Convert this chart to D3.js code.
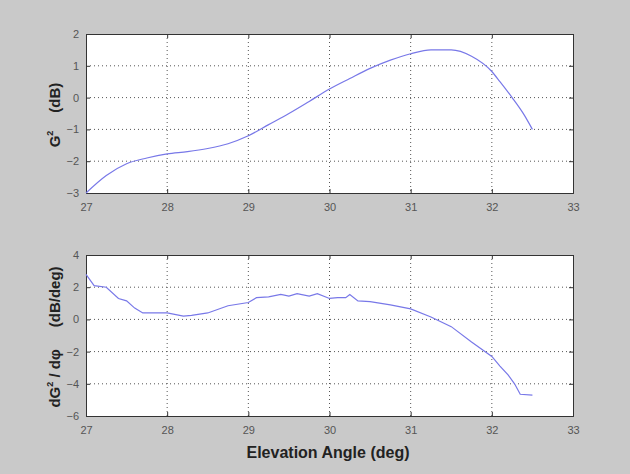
<!DOCTYPE html>
<html>
<head>
<meta charset="utf-8">
<script src="https://cdn.jsdelivr.net/npm/d3@7"></script>
<style>
  body { margin: 0; background: #c9c9c9; }
  svg { display: block; }
  .tick text { font-family: "Liberation Sans", Arial, sans-serif; font-size: 11px; fill: #555; }
  .lbl { font-family: "Liberation Sans", Arial, sans-serif; font-weight: bold; fill: #222; }
</style>
</head>
<body>
<div id="chart"></div>
<script>
// elevation angle (deg) and gain squared (dB)
const angleTop = [27, 27.25, 27.5, 27.75, 28, 28.25, 28.5, 28.75, 29, 29.25, 29.5, 29.75, 30, 30.25, 30.5, 30.75, 31, 31.25, 31.5, 31.75, 32, 32.1, 32.25, 32.4, 32.5];
const gain = [-3, -2.45, -2.08, -1.9, -1.77, -1.7, -1.6, -1.45, -1.2, -0.85, -0.5, -0.12, 0.27, 0.6, 0.92, 1.18, 1.38, 1.5, 1.5, 1.3, 0.82, 0.5, 0.0, -0.55, -1.0];

// derivative dG^2/dphi (dB/deg)
const angleBot = [27, 27.1, 27.25, 27.4, 27.5, 27.6, 27.7, 28, 28.2, 28.3, 28.5, 28.75, 29, 29.1, 29.25, 29.4, 29.5, 29.6, 29.75, 29.85, 30, 30.1, 30.2, 30.25, 30.35, 30.5, 30.75, 31, 31.25, 31.5, 31.75, 32, 32.1, 32.2, 32.28, 32.35, 32.5];
const deriv = [2.8, 2.1, 2.0, 1.3, 1.15, 0.7, 0.4, 0.4, 0.2, 0.25, 0.4, 0.85, 1.05, 1.35, 1.4, 1.55, 1.45, 1.6, 1.45, 1.6, 1.3, 1.35, 1.35, 1.55, 1.15, 1.1, 0.9, 0.65, 0.15, -0.45, -1.4, -2.3, -2.9, -3.45, -4.0, -4.65, -4.7];

const xTicks = [27, 28, 29, 30, 31, 32, 33];
const yTicksTop = [-3, -2, -1, 0, 1, 2];
const yTicksBot = [-6, -4, -2, 0, 2, 4];

const width = 630, height = 474;
const left = 86, right = 573;

const svg = d3.select("#chart").append("svg").attr("width", width).attr("height", height);

function panel(top, bottom, xs, ys, yDomain, yTicks, curve) {
    const x = d3.scaleLinear().domain([27, 33]).range([left, right]);
    const y = d3.scaleLinear().domain(yDomain).range([bottom, top]);
    const g = svg.append("g");

    g.append("rect").attr("x", left).attr("y", top).attr("width", right - left).attr("height", bottom - top).attr("fill", "#fff");

    // 网格
    g.append("g").selectAll("line").data(xTicks.slice(1, -1)).join("line")
        .attr("x1", d => x(d)).attr("x2", d => x(d)).attr("y1", top).attr("y2", bottom)
        .attr("stroke", "#555").attr("stroke-dasharray", "1,3");
    g.append("g").selectAll("line").data(yTicks.slice(1, -1)).join("line")
        .attr("y1", d => y(d)).attr("y2", d => y(d)).attr("x1", left).attr("x2", right)
        .attr("stroke", "#555").attr("stroke-dasharray", "1,3");

    // 坐标轴
    const fmt = d3.format("d");
    g.append("g").attr("transform", "translate(0," + bottom + ")")
        .call(d3.axisBottom(x).tickValues(xTicks).tickSize(-4).tickPadding(10).tickFormat(fmt))
        .call(a => a.select(".domain").attr("stroke", "#333"));
    g.append("g").attr("transform", "translate(0," + top + ")")
        .call(d3.axisTop(x).tickValues(xTicks).tickSize(-4).tickFormat(""))
        .call(a => a.select(".domain").attr("stroke", "#333"));
    g.append("g").attr("transform", "translate(" + left + ",0)")
        .call(d3.axisLeft(y).tickValues(yTicks).tickSize(-4).tickPadding(7).tickFormat(fmt))
        .call(a => a.select(".domain").attr("stroke", "#333"));
    g.append("g").attr("transform", "translate(" + right + ",0)")
        .call(d3.axisRight(y).tickValues(yTicks).tickSize(-4).tickFormat(""))
        .call(a => a.select(".domain").attr("stroke", "#333"));
    g.selectAll(".tick line").attr("stroke", "#333");

    const line = d3.line().x((d, i) => x(xs[i])).y(d => y(d)).curve(curve);
    g.append("path").datum(ys).attr("d", line)
        .attr("fill", "none").attr("stroke", "#7878e8").attr("stroke-width", 1.2);
    return g;
}

panel(34, 193, angleTop, gain, [-3, 2], yTicksTop, d3.curveMonotoneX);
panel(255, 416, angleBot, deriv, [-6, 4], yTicksBot, d3.curveLinear);

// y 轴标题
const t1 = svg.append("text").attr("class", "lbl").attr("font-size", 15)
    .attr("text-anchor", "middle").attr("transform", "translate(60,115) rotate(-90)");
t1.append("tspan").text("G");
t1.append("tspan").attr("dy", -7).attr("font-size", 9).text("2");
t1.append("tspan").attr("dy", 7).attr("dx", 18).text("(dB)");

const t2 = svg.append("text").attr("class", "lbl").attr("font-size", 15)
    .attr("text-anchor", "middle").attr("transform", "translate(60,337) rotate(-90)");
t2.append("tspan").text("dG");
t2.append("tspan").attr("dy", -7).attr("font-size", 9).text("2");
t2.append("tspan").attr("dy", 7).text(" / dφ");
t2.append("tspan").attr("dx", 22).text("(dB/deg)");

svg.append("text").attr("class", "lbl").attr("font-size", 16)
    .attr("text-anchor", "middle").attr("x", 328).attr("y", 458).text("Elevation Angle (deg)");
</script>
</body>
</html>
